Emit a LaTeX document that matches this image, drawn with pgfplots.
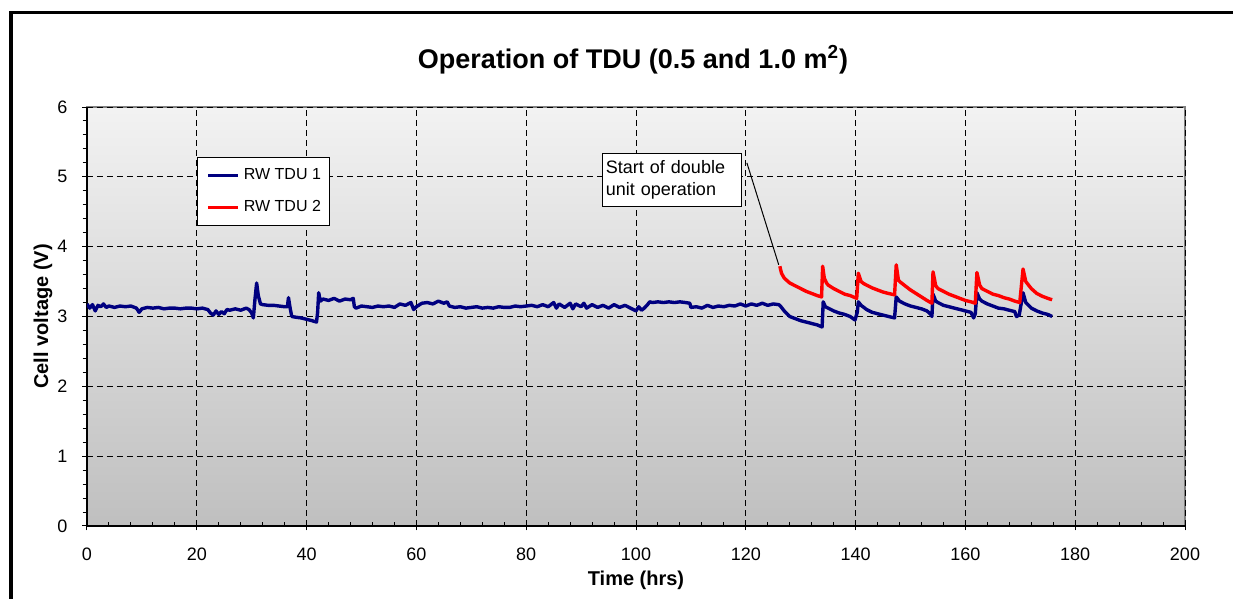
\documentclass[border=0pt]{standalone}
\usepackage{pgfplots}
\pgfplotsset{compat=1.18}
\usepackage{fontspec}
\setmainfont{Liberation Sans}
\definecolor{navyb}{HTML}{000080}
\definecolor{redr}{HTML}{FF0000}
\begin{document}
\begin{tikzpicture}
\useasboundingbox (0,0) rectangle (616.5pt,299.5pt);
\draw[line width=1.7pt] (5.5pt,0pt) -- (5.5pt,293.35pt) -- (616.5pt,293.35pt);
\node[anchor=base,font=\fontsize{13.5}{16}\selectfont\bfseries] at (316.5pt,265pt) {Operation of TDU (0.5 and 1.0 m\textsuperscript{2})};
\begin{axis}[
  at={(43.5pt,36.5pt)}, anchor=south west,
  scale only axis, width=549pt, height=209.5pt,
  xmin=0, xmax=200, ymin=0, ymax=6,
  xtick={0,20,...,200}, ytick={0,1,...,6},
  minor x tick num=4, minor y tick num=4,
  axis x line*=bottom, axis y line*=left,
  axis line style={-, black, line width=0.6pt},
  axis background/.style={top color=black!5, bottom color=black!25, draw=black!50, line width=0.6pt},
  tick align=center, major tick length=4.5pt, minor tick length=2.2pt,
  every tick/.style={black, line width=0.5pt},
  minor x tick style={yshift=1.1pt},
  minor y tick style={xshift=-1.1pt},
  grid=major,
  major grid style={black, line width=0.5pt, dash pattern=on 3pt off 2pt},
  /pgf/number format/assume math mode=true,
  tick label style={font=\fontsize{9}{10}\selectfont},
  xticklabel style={yshift=-5pt},
  yticklabel style={xshift=-4pt},
  xlabel={\bfseries Time (hrs)}, ylabel={\bfseries Cell voltage (V)},
  label style={font=\fontsize{10}{12}\selectfont},
  xlabel style={at={(axis description cs:0.5,-0.1289)}, anchor=center},
  ylabel style={at={(axis description cs:-0.0401,0.5)}, anchor=center},
  legend style={at={(0.1002,0.8807)}, anchor=north west, draw=black, fill=white,
    line width=0.5pt, font=\fontsize{8}{9.6}\selectfont,
    inner xsep=4.5pt, inner ysep=5.4pt, row sep=9pt, column sep=2pt,
    nodes={inner sep=0pt, anchor=west}},
  legend cell align=left,
  legend image code/.code={\draw[#1] (0pt,0pt) -- (15pt,0pt);},
]
\addplot[navyb, line width=1.7pt, line join=round] coordinates {
(0,3.18) (0.5,3.12) (1,3.17) (1.5,3.08) (2,3.16) (2.5,3.14) (3,3.18) (3.5,3.13) (4,3.15) (5,3.13)
(6,3.15) (7,3.14) (8,3.15) (9,3.12) (9.5,3.06) (10,3.11) (11,3.13) (12,3.12) (13,3.13) (14,3.11)
(15,3.12) (16,3.12) (17,3.11) (18,3.12) (19,3.12) (20,3.11) (21,3.12) (22,3.10) (22.5,3.05) (23,3.02)
(23.5,3.08) (24,3.03) (24.5,3.07) (25,3.04) (25.5,3.10) (26,3.09) (27,3.11) (28,3.09) (29,3.12) (29.5,3.10)
(30,3.05) (30.3,2.98) (30.6,3.25) (30.9,3.48) (31.2,3.30) (31.6,3.18) (32,3.17) (33,3.16) (34,3.16) (35,3.15)
(36,3.14) (36.5,3.14) (36.7,3.27) (37,3.12) (37.3,3.00) (38,2.99) (39,2.98) (40,2.96) (41,2.94) (41.8,2.92)
(42,3.05) (42.2,3.34) (42.5,3.22) (43,3.25) (44,3.23) (45,3.26) (46,3.22) (47,3.25) (48,3.24) (48.5,3.26)
(48.7,3.14) (49,3.12) (50,3.15) (51,3.14) (52,3.13) (53,3.15) (54,3.14) (55,3.15) (56,3.13) (57,3.18)
(58,3.16) (59,3.20) (59.5,3.10) (60,3.14) (61,3.19) (62,3.20) (63,3.18) (64,3.22) (65,3.19) (65.6,3.21)
(66,3.15) (67,3.13) (68,3.14) (69,3.12) (70,3.13) (71,3.14) (72,3.12) (73,3.13) (74,3.12) (75,3.14)
(76,3.13) (77,3.13) (78,3.15) (79,3.14) (80,3.15) (81,3.16) (82,3.14) (83,3.17) (84,3.14) (85,3.20)
(85.5,3.12) (86,3.18) (87,3.13) (88,3.19) (88.5,3.11) (89,3.18) (90,3.14) (90.5,3.19) (91,3.12) (92,3.17)
(93,3.13) (94,3.16) (95,3.12) (96,3.17) (97,3.13) (98,3.16) (99,3.12) (99.5,3.10) (100,3.08) (100.5,3.14)
(101,3.09) (101.5,3.12) (102,3.16) (102.5,3.21) (103,3.20) (104,3.21) (105,3.20) (106,3.21) (107,3.20) (108,3.21)
(109,3.20) (109.8,3.19) (110,3.13) (111,3.14) (112,3.12) (113,3.16) (114,3.13) (115,3.15) (116,3.14) (117,3.16)
(118,3.15) (119,3.18) (120,3.15) (121,3.18) (122,3.16) (123,3.19) (124,3.16) (125,3.18) (126,3.17) (126.3,3.15)
(127,3.08) (128,3.00) (129,2.97) (130,2.94) (131,2.92) (132,2.90) (133,2.88) (133.9,2.85) (134.1,3.21) (134.5,3.14)
(135,3.12) (136,3.08) (137,3.05) (138,3.03) (139,3.00) (139.9,2.95) (140.3,3.06) (140.5,3.21) (141,3.16) (142,3.10)
(143,3.06) (144,3.04) (145,3.02) (146,3.00) (147.1,2.98) (147.4,3.28) (148,3.22) (149,3.18) (150,3.15) (151,3.13)
(152,3.11) (153,3.08) (153.7,3.03) (153.9,3.00) (154.1,3.32) (154.6,3.22) (155,3.20) (156,3.16) (157,3.14) (158,3.12)
(159,3.10) (160,3.08) (161,3.06) (161.5,2.98) (161.8,3.04) (162.1,3.34) (162.6,3.25) (163,3.22) (164,3.18) (165,3.15)
(166,3.12) (167,3.11) (168,3.09) (169,3.07) (169.3,3.00) (169.8,3.02) (170.5,3.34) (171,3.20) (172,3.12) (173,3.08)
(174,3.05) (175,3.03) (175.8,3.00)
};
\addlegendentry{RW TDU 1}
\addplot[redr, line width=1.7pt, line join=round] coordinates {
(126.2,3.72) (126.5,3.62) (127,3.55) (128,3.48) (129,3.44) (130,3.40) (131,3.36) (132,3.33) (133,3.30) (133.8,3.28)
(134.0,3.72) (134.3,3.55) (134.7,3.48) (135,3.45) (136,3.40) (137,3.36) (138,3.32) (139,3.30) (140.2,3.26)
(140.5,3.62) (141,3.50) (141.5,3.47) (142,3.45) (143,3.41) (144,3.38) (145,3.35) (146,3.33) (147.1,3.31)
(147.4,3.74) (147.8,3.52) (148.2,3.49) (149,3.44) (150,3.38) (151,3.33) (152,3.28) (153,3.23) (153.9,3.19)
(154.1,3.64) (154.6,3.44) (155,3.40) (156,3.36) (157,3.32) (158,3.29) (159,3.26) (160,3.23) (161,3.21) (161.8,3.19)
(162.1,3.63) (162.6,3.45) (163,3.40) (164,3.36) (165,3.32) (166,3.30) (167,3.27) (168,3.25) (169,3.22) (169.9,3.20)
(170.5,3.68) (171,3.50) (171.5,3.45) (172,3.40) (173,3.33) (174,3.29) (175,3.26) (175.8,3.24)
};
\addlegendentry{RW TDU 2}
\draw[black, line width=0.5pt] (axis cs:120.2,5.20) -- (axis cs:126.0,3.74);
\node[anchor=north west, draw=black, fill=white, line width=0.5pt, text width=66pt, align=left,
  inner xsep=1.75pt, inner ysep=3.5pt, font=\fontsize{9}{11}\selectfont] at (axis cs:93.8,5.34)
  {Start of double\\unit operation};
\end{axis}
\end{tikzpicture}
\end{document}
